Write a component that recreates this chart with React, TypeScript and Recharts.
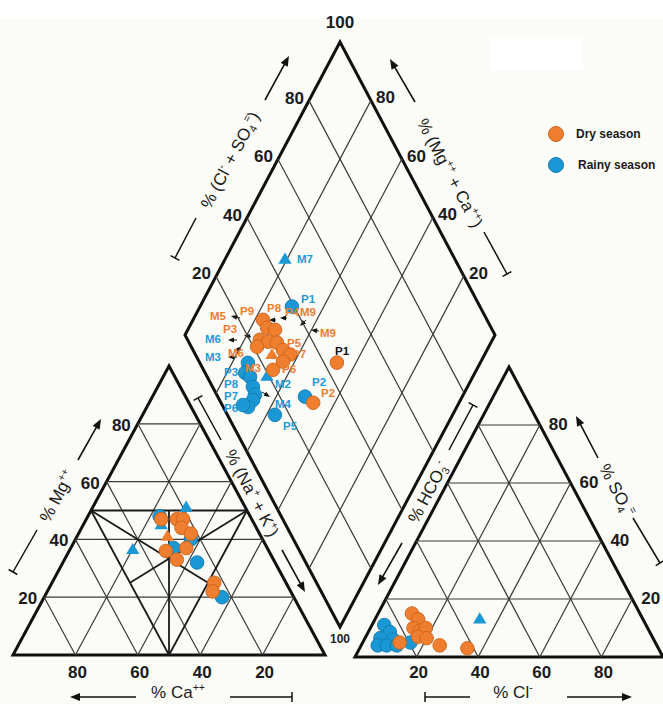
import React from "react";
import { ScatterChart, Scatter, XAxis, YAxis, ReferenceLine, Customized } from "recharts";

const W = 663;
const H = 704;
const FONT = "'Liberation Sans', Arial, Helvetica, sans-serif";

// ---------------- data (percent of meq/L) ----------------
// cation triangle: [Ca, Mg, Na+K]
const dryCationsCircle = [[29, 47, 24], [24, 47, 29], [22, 47, 31], [24, 44, 32], [22, 42, 36], [26, 37, 37], [33, 36, 31], [31, 33, 36], [23, 25, 52], [25, 22, 53]];
const dryCationsTriangle = [[30, 41, 29]];
const rainyCationsCircle = [[29, 48, 23], [30, 37, 33], [23, 40, 37], [25, 32, 43], [23, 20, 57]];
const rainyCationsTriangle = [[30, 45, 25], [19, 51, 30], [43, 36, 20]];

// anion triangle: [HCO3, Cl, SO4]
const dryAnionsCircle = [[74, 11, 15], [73, 14, 13], [76, 14, 10], [74.5, 16.5, 9], [72, 18, 10], [76, 17, 7], [73.5, 20, 6.5], [83, 12, 5], [70.5, 25.5, 4], [62, 35, 3]];
const rainyAnionsCircle = [[85, 4, 11], [84.4, 7, 8.6], [88.5, 5, 6.5], [84.6, 9.4, 6], [90.6, 5.4, 4], [87.7, 8.3, 4], [84.4, 11.6, 4], [79.5, 15.5, 5]];
const rainyAnionsTriangle = [[53, 34, 13]];

// diamond: [Na+K, Cl+SO4]
const dryDiamondCircle = [[53.8, 44.2], [53.0, 29.7], [22.6, 27.7], [25.3, 27.7], [28.2, 29.9], [25.0, 23.3], [28.0, 25.6], [31.0, 28.3], [34.2, 29.0], [37.3, 30.5], [34.4, 22.4], [36.2, 27.0], [25.3, 21.2]];
const dryDiamondTriangle = [[31.5, 24.6]];
const rainyDiamondCircle = [[29.7, 39.3], [25.1, 15.5], [25.9, 12.9], [28.2, 13.8], [30.8, 13.0], [32.8, 12.3], [33.1, 10.8], [32.7, 8.0], [30.7, 6.7], [42.7, 15.3], [49.3, 28.1]];
const rainyDiamondTriangle = [[19.4, 45.1], [33.6, 19.3]];

const tickValues = [20, 40, 60, 80];
const seriesNames = ["Dry season", "Rainy season"];

// sample labels in the diamond: [text, colour key]
const sampleLabels: [string, string][] = [
  ["M7", "b"], ["P1", "b"], ["P9", "o"], ["P8", "o"], ["P4", "o"], ["M9", "o"], ["M5", "o"], ["P3", "o"], ["M9", "o"],
  ["M6", "b"], ["M6", "o"], ["P5", "o"], ["P7", "o"], ["P1", "k"], ["M3", "b"], ["M3", "o"], ["P6", "o"], ["P3", "b"],
  ["M2", "b"], ["P2", "b"], ["P2", "o"], ["P8", "b"], ["P7", "b"], ["M4", "b"], ["P6", "b"], ["P5", "b"],
];

// ---------------- layout ----------------
const CA = { x: 13, y: 655 }, NA = { x: 325, y: 655 }, MG = { x: 169, y: 366 };
const HC = { x: 355, y: 657 }, CL = { x: 663, y: 657 }, SO = { x: 509, y: 367 };
const DL = { x: 185, y: 335 }, DB = { x: 340, y: 627 }, DT = { x: 340, y: 42 }, DR = { x: 495, y: 335 };

const labelPos = [
  [297, 263], [301, 303], [240, 315], [267, 312], [285, 316], [300, 316], [210, 320], [223, 333], [320, 337],
  [205, 343], [228, 357], [287, 347], [292, 358], [335, 355], [205, 361], [245, 372], [282, 373], [224, 376],
  [275, 388], [312, 386], [321, 397], [224, 388], [224, 400], [275, 408], [224, 412], [283, 430],
];
const smallArrows = [
  [240, 318, 231, 316], [251, 337, 244, 335], [237, 340, 228, 340], [237, 357, 228, 357], [276, 320, 269, 320],
  [287, 318, 280, 318], [306, 320, 300, 326], [319, 331, 311, 330], [262, 392, 270, 397], [241, 349, 234, 350],
];

const ORANGE = "#EF7E2F", ORANGE_S = "#C9631C";
const BLUE = "#1A98D5", BLUE_S = "#1379AE";
const LABEL_COL: Record<string, string> = { o: "#EE7D30", b: "#1B9AD8", k: "#111" };

function cationXY(v: number[]) {
  const [ca, mg, na] = v; const s = ca + mg + na;
  return { x: (ca * CA.x + mg * MG.x + na * NA.x) / s, y: (ca * CA.y + mg * MG.y + na * NA.y) / s };
}
function anionXY(v: number[]) {
  const [hc, cl, so] = v; const s = hc + cl + so;
  return { x: (hc * HC.x + cl * CL.x + so * SO.x) / s, y: (hc * HC.y + cl * CL.y + so * SO.y) / s };
}
function diamondXY(v: number[]) {
  const n = v[0] / 100, s = v[1] / 100;
  return { x: DL.x + n * (DB.x - DL.x) + s * (DT.x - DL.x), y: DL.y + n * (DB.y - DL.y) + s * (DT.y - DL.y) };
}

const dryCircles = [...dryCationsCircle.map(cationXY), ...dryAnionsCircle.map(anionXY), ...dryDiamondCircle.map(diamondXY)];
const dryTriangles = [...dryCationsTriangle.map(cationXY), ...dryDiamondTriangle.map(diamondXY)];
const rainyCircles = [...rainyCationsCircle.map(cationXY), ...rainyAnionsCircle.map(anionXY), ...rainyDiamondCircle.map(diamondXY)];
const rainyTriangles = [...rainyCationsTriangle.map(cationXY), ...rainyAnionsTriangle.map(anionXY), ...rainyDiamondTriangle.map(diamondXY)];
const labelData = sampleLabels.map(([text, c], i) => ({ x: labelPos[i][0], y: labelPos[i][1], text, c }));

type P = { x: number; y: number };
const gridSegs: [P, P][] = [];
const faciesSegs: [P, P][] = [];
tickValues.forEach((t) => {
  const k = t / 100;
  gridSegs.push([cationXY([1 - k, k, 0]), cationXY([0, k, 1 - k])]);
  gridSegs.push([cationXY([k, 1 - k, 0]), cationXY([k, 0, 1 - k])]);
  gridSegs.push([cationXY([0, 1 - k, k]), cationXY([1 - k, 0, k])]);
  gridSegs.push([anionXY([1 - k, 0, k]), anionXY([0, 1 - k, k])]);
  gridSegs.push([anionXY([k, 0, 1 - k]), anionXY([k, 1 - k, 0])]);
  gridSegs.push([anionXY([0, k, 1 - k]), anionXY([1 - k, k, 0])]);
  gridSegs.push([diamondXY([0, t]), diamondXY([100, t])]);
  gridSegs.push([diamondXY([t, 0]), diamondXY([t, 100])]);
});
faciesSegs.push([cationXY([0.5, 0.5, 0]), cationXY([0, 0.5, 0.5])]);
faciesSegs.push([cationXY([0.5, 0.5, 0]), cationXY([0.5, 0, 0.5])]);
faciesSegs.push([cationXY([0, 0.5, 0.5]), cationXY([0.5, 0, 0.5])]);
faciesSegs.push([cationXY([0.5, 0, 0.5]), cationXY([0.25, 0.5, 0.25])]);
faciesSegs.push([cationXY([0.5, 0.5, 0]), cationXY([0.25, 0.25, 0.5])]);
faciesSegs.push([cationXY([0, 0.5, 0.5]), cationXY([0.5, 0.25, 0.25])]);

type Seg = { t: string; sup?: boolean; sub?: boolean };
function RichText({ x, y, angle, size, segs, weight = "normal" }: { x: number; y: number; angle?: number; size: number; segs: Seg[]; weight?: string }) {
  let cur = 0;
  const small = size * 0.62;
  return (
    <text x={x} y={y + size * 0.35} textAnchor="middle" fontSize={size} fontFamily={FONT} fontWeight={weight} fill="#1a1a1a"
      transform={angle ? `rotate(${angle} ${x} ${y})` : undefined}>
      {segs.map((s, i) => {
        const target = s.sup ? -size * 0.42 : s.sub ? size * 0.2 : 0;
        const dy = target - cur; cur = target;
        return <tspan key={i} dy={dy} fontSize={s.sup || s.sub ? small : size}>{s.t}</tspan>;
      })}
    </text>
  );
}
function Arrow({ x1, y1, x2, y2, w = 1.6, head = 10 }: any) {
  const dx = x2 - x1, dy = y2 - y1, L = Math.hypot(dx, dy); const ux = dx / L, uy = dy / L;
  const bx = x2 - ux * head, by = y2 - uy * head; const px = -uy, py = ux; const hw = head * 0.4;
  return (
    <g>
      <line x1={x1} y1={y1} x2={bx + ux} y2={by + uy} stroke="#111" strokeWidth={w} />
      <polygon points={`${x2},${y2} ${bx + px * hw},${by + py * hw} ${bx - px * hw},${by - py * hw}`} fill="#111" />
    </g>
  );
}
function Bar({ x1, y1, x2, y2 }: any) {
  const dx = x2 - x1, dy = y2 - y1, L = Math.hypot(dx, dy); const px = -dy / L, py = dx / L; const t = 5;
  return (
    <g stroke="#111" strokeWidth={1.5}>
      <line x1={x1} y1={y1} x2={x2} y2={y2} />
      <line x1={x1 + px * t} y1={y1 + py * t} x2={x1 - px * t} y2={y1 - py * t} />
    </g>
  );
}

const tickStyle = { fontSize: 17, fontFamily: FONT, fontWeight: "bold" as const, fill: "#1a1a1a" };

function Frame() {
  return (
    <g>
      <polygon points={`${CA.x},${CA.y} ${NA.x},${NA.y} ${MG.x},${MG.y}`} fill="none" stroke="#111" strokeWidth={3} strokeLinejoin="miter" />
      <polygon points={`${HC.x},${HC.y} ${CL.x},${CL.y} ${SO.x},${SO.y}`} fill="none" stroke="#111" strokeWidth={3} strokeLinejoin="miter" />
      <polygon points={`${DL.x},${DL.y} ${DT.x},${DT.y} ${DR.x},${DR.y} ${DB.x},${DB.y}`} fill="none" stroke="#111" strokeWidth={3} strokeLinejoin="miter" />
      {smallArrows.map((a, i) => <Arrow key={i} x1={a[0]} y1={a[1]} x2={a[2]} y2={a[3]} w={1} head={6} />)}
    </g>
  );
}

function Decor() {
  return (
    <g>
      {tickValues.map((t) => {
        const k = t / 100;
        const dl = diamondXY([0, t]);
        const dr = diamondXY([100 - t, 100]);
        const cm = cationXY([1 - k, k, 0]);
        const cc = cationXY([k, 0, 1 - k]);
        const ac = anionXY([1 - k, k, 0]);
        const as = anionXY([0, 1 - k, k]);
        return (
          <g key={t}>
            <text x={dl.x - 5} y={dl.y + 3} textAnchor="end" {...tickStyle}>{t}</text>
            <text x={dr.x + 5} y={dr.y + 3} textAnchor="start" {...tickStyle}>{t}</text>
            <text x={cm.x - 7} y={cm.y + 7} textAnchor="end" {...tickStyle}>{t}</text>
            <text x={cc.x + 2} y={678} textAnchor="middle" {...tickStyle}>{t}</text>
            <text x={ac.x + 2} y={678} textAnchor="middle" {...tickStyle}>{t}</text>
            <text x={as.x + 9} y={as.y + 5} textAnchor="start" {...tickStyle}>{t}</text>
          </g>
        );
      })}
      <text x={DT.x} y={28} textAnchor="middle" {...tickStyle}>100</text>
      <text x={DB.x} y={643} textAnchor="middle" fontSize={12} fontFamily={FONT} fontWeight="bold" fill="#222">100</text>

      <RichText x={230} y={160} angle={-62} size={17} segs={[{ t: "% (Cl" }, { t: "-", sup: true }, { t: " + SO" }, { t: "4", sub: true }, { t: "=", sup: true }, { t: ")" }]} />
      <Arrow x1={265} y1={100} x2={289} y2={56} />
      <Bar x1={175} y1={258} x2={196} y2={218} />

      <RichText x={450} y={173} angle={62} size={17} segs={[{ t: "% (Mg" }, { t: "++", sup: true }, { t: " + Ca" }, { t: "++", sup: true }, { t: ")" }]} />
      <Arrow x1={415} y1={102} x2={390} y2={59} />
      <Bar x1={507} y1={274} x2={484} y2={232} />

      <RichText x={57} y={496} angle={-62} size={17} segs={[{ t: "% Mg" }, { t: "++", sup: true }]} />
      <Arrow x1={78} y1={460} x2={101} y2={419} />
      <Bar x1={13} y1={572} x2={37} y2={530} />

      <RichText x={178} y={692} size={17} segs={[{ t: "% Ca" }, { t: "++", sup: true }]} />
      <Arrow x1={136} y1={697} x2={70} y2={697} />
      <Bar x1={292} y1={697} x2={230} y2={697} />

      <RichText x={513} y={692} size={17} segs={[{ t: "% Cl" }, { t: "-", sup: true }]} />
      <Bar x1={425} y1={697} x2={470} y2={697} />
      <Arrow x1={567} y1={697} x2={632} y2={697} />

      <RichText x={617} y={490} angle={62} size={17} segs={[{ t: "% SO" }, { t: "4", sub: true }, { t: "=", sup: true }]} />
      <Arrow x1={598} y1={458} x2={576} y2={416} />
      <Bar x1={660} y1={563} x2={633} y2={518} />

      <RichText x={252} y={493} angle={62} size={17} segs={[{ t: "% (Na" }, { t: "+", sup: true }, { t: " + K" }, { t: "+", sup: true }, { t: ")" }]} />
      <Bar x1={198} y1={398} x2={221} y2={440} />
      <Arrow x1={282} y1={550} x2={305} y2={592} />

      <RichText x={428} y={492} angle={-62} size={17} segs={[{ t: "% HCO" }, { t: "3", sub: true }, { t: "-", sup: true }]} />
      <Bar x1={473} y1={405} x2={449} y2={450} />
      <Arrow x1={402} y1={543} x2={378} y2={585} />

      <circle cx={556} cy={134} r={7.5} fill={ORANGE} stroke={ORANGE_S} strokeWidth={1} />
      <text x={576} y={138} fontSize={12} fontWeight="bold" fontFamily={FONT} fill="#1a1a1a">{seriesNames[0]}</text>
      <circle cx={556} cy={165} r={7.5} fill={BLUE} stroke={BLUE_S} strokeWidth={1} />
      <text x={578} y={169} fontSize={12} fontWeight="bold" fontFamily={FONT} fill="#1a1a1a">{seriesNames[1]}</text>
    </g>
  );
}

const circleShape = (fill: string, stroke: string) => (p: any) => (
  <circle cx={p.cx} cy={p.cy} r={6.8} fill={fill} stroke={stroke} strokeWidth={0.9} />
);
const triShape = (fill: string) => (p: any) => {
  const r = 7;
  return <polygon points={`${p.cx},${p.cy - r} ${p.cx + r * 0.95},${p.cy + r * 0.6} ${p.cx - r * 0.95},${p.cy + r * 0.6}`} fill={fill} />;
};
const labelShape = (p: any) => {
  const d = p.payload || p;
  return (
    <text x={p.cx} y={p.cy} fontSize={11.5} fontWeight="bold" fontFamily={FONT} fill={LABEL_COL[d.c]}>{d.text}</text>
  );
};

export default function App() {
  return (
    <div style={{ width: W, height: H, position: "relative", background: "#fbfbf7" }}>
      <style>{`body{margin:0;background:#fbfbf7;}`}</style>
      <div style={{ position: "absolute", left: 0, top: 0, width: W, height: 18, background: "#fff" }} />
      <div style={{ position: "absolute", left: 490, top: 37, width: 93, height: 33, background: "#fff" }} />
      <div style={{ position: "absolute", left: 0, top: 0 }}>
        <ScatterChart width={W} height={H} margin={{ top: 0, right: 0, bottom: 0, left: 0 }}>
          <XAxis type="number" dataKey="x" domain={[0, W]} hide allowDataOverflow />
          <YAxis type="number" dataKey="y" domain={[0, H]} reversed hide allowDataOverflow />
          {gridSegs.map((s, i) => (
            <ReferenceLine key={"g" + i} segment={s} stroke="#3a3a3a" strokeWidth={1.2} ifOverflow="visible" />
          ))}
          {faciesSegs.map((s, i) => (
            <ReferenceLine key={"f" + i} segment={s} stroke="#1a1a1a" strokeWidth={1.8} ifOverflow="visible" />
          ))}
          <Customized component={Frame} />
          <Customized component={Decor} />
          <Scatter data={rainyCircles} shape={circleShape(BLUE, BLUE_S)} isAnimationActive={false} />
          <Scatter data={rainyTriangles} shape={triShape(BLUE)} isAnimationActive={false} />
          <Scatter data={dryCircles} shape={circleShape(ORANGE, ORANGE_S)} isAnimationActive={false} />
          <Scatter data={dryTriangles} shape={triShape(ORANGE)} isAnimationActive={false} />
          <Scatter data={labelData} shape={labelShape} isAnimationActive={false} />
        </ScatterChart>
      </div>
    </div>
  );
}
